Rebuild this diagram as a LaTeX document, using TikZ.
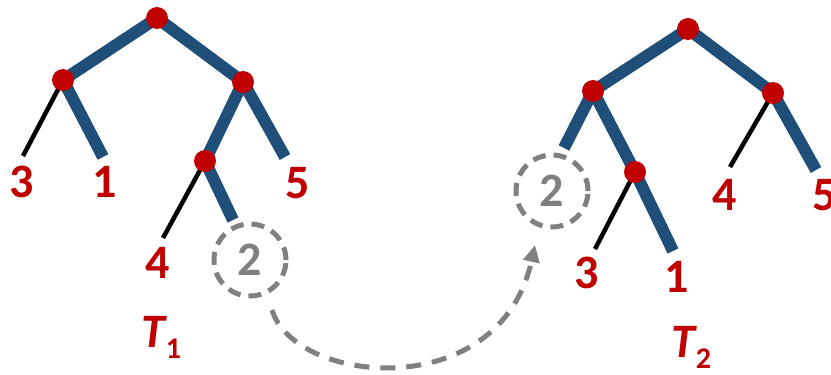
\documentclass[tikz,border=0pt]{standalone}
\usepackage{fontspec}
\setmainfont{Carlito}
\usetikzlibrary{arrows.meta,backgrounds}
\definecolor{tred}{RGB}{192,0,0}
\definecolor{tblue}{RGB}{31,78,121}
\definecolor{tgray}{RGB}{128,128,128}
\begin{document}
\begin{tikzpicture}[x=1pt,y=-1pt,
  inode/.style={circle,fill=tred,minimum size=22pt,inner sep=0pt},
  blueedge/.style={draw=tblue,line width=12pt},
  blackedge/.style={draw=black,line width=4.5pt},
  leaf/.style={text=tred,font=\fontsize{48}{48}\selectfont\bfseries,inner sep=0pt},
  ghost/.style={circle,draw=tgray,dash pattern=on 13pt off 8pt,line width=5pt,minimum size=72pt,inner sep=0pt,text=tgray,font=\fontsize{48}{48}\selectfont\bfseries},
  tlabel/.style={text=tred,inner sep=0pt,anchor=base west},
  movearrow/.style={draw=tgray,line width=5pt,dash pattern=on 15pt off 11pt,-{Triangle[length=17pt,width=16pt]}}
  ]
\useasboundingbox (0,0) rectangle (831,375);

% ---------- T1 ----------
\coordinate (a3) at (23,156);
\coordinate (a1) at (103,157);
\coordinate (a5) at (285,157);
\coordinate (a4) at (163,238);
\coordinate (a2) at (233,220);
\node[inode] (ar) at (157,18) {};
\node[inode] (al) at (63,80) {};
\node[inode] (aR) at (243,82) {};
\node[inode] (aRL) at (205,161) {};

\node[leaf] (l3a) at (22,182) {3};
\node[leaf] (l1a) at (105,182) {1};
\node[leaf] (l5a) at (298,183) {5};
\node[leaf] (l4a) at (158,263) {4};
\node[ghost] (g1) at (250,260) {2};
\node[tlabel] (t1) at (141,347) {\fontsize{48}{48}\selectfont\bfseries\itshape T\kern1pt\raisebox{-11pt}{\fontsize{30}{30}\selectfont\upshape 1}};

% ---------- T2 ----------
\coordinate (b2) at (564,148);
\coordinate (b3) at (595,249);
\coordinate (b1) at (673,251);
\coordinate (b4) at (730,167);
\coordinate (b5) at (816,170);
\node[inode] (br) at (688,29) {};
\node[inode] (bl) at (593,91) {};
\node[inode] (bR) at (773,93) {};
\node[inode] (bLR) at (635,172) {};

\node[ghost] (g2) at (552,191) {2};
\node[leaf] (l3b) at (587,273) {3};
\node[leaf] (l1b) at (677,277) {1};
\node[leaf] (l4b) at (725,195) {4};
\node[leaf] (l5b) at (825,195) {5};
\node[tlabel] (t2) at (671,357) {\fontsize{48}{48}\selectfont\bfseries\itshape T\kern1pt\raisebox{-11pt}{\fontsize{30}{30}\selectfont\upshape 2}};

\begin{scope}[on background layer]
\draw[blueedge] (ar.center) -- (al.center);
\draw[blueedge] (ar.center) -- (aR.center);
\draw[blackedge] (al.center) -- (a3);
\draw[blueedge] (al.center) -- (a1);
\draw[blueedge] (aR.center) -- (aRL.center);
\draw[blueedge] (aR.center) -- (a5);
\draw[blackedge] (aRL.center) -- (a4);
\draw[blueedge] (aRL.center) -- (a2);

\draw[blueedge] (br.center) -- (bl.center);
\draw[blueedge] (br.center) -- (bR.center);
\draw[blueedge] (bl.center) -- (b2);
\draw[blueedge] (bl.center) -- (bLR.center);
\draw[blackedge] (bLR.center) -- (b3);
\draw[blueedge] (bLR.center) -- (b1);
\draw[blackedge] (bR.center) -- (b4);
\draw[blueedge] (bR.center) -- (b5);
\end{scope}

% ---------- move arrow ----------
\coordinate (ms) at (272,310);
\coordinate (me) at (535,245);
\draw[movearrow] (ms) .. controls (295,385) and (500,405) .. (me);
\end{tikzpicture}
\end{document}
